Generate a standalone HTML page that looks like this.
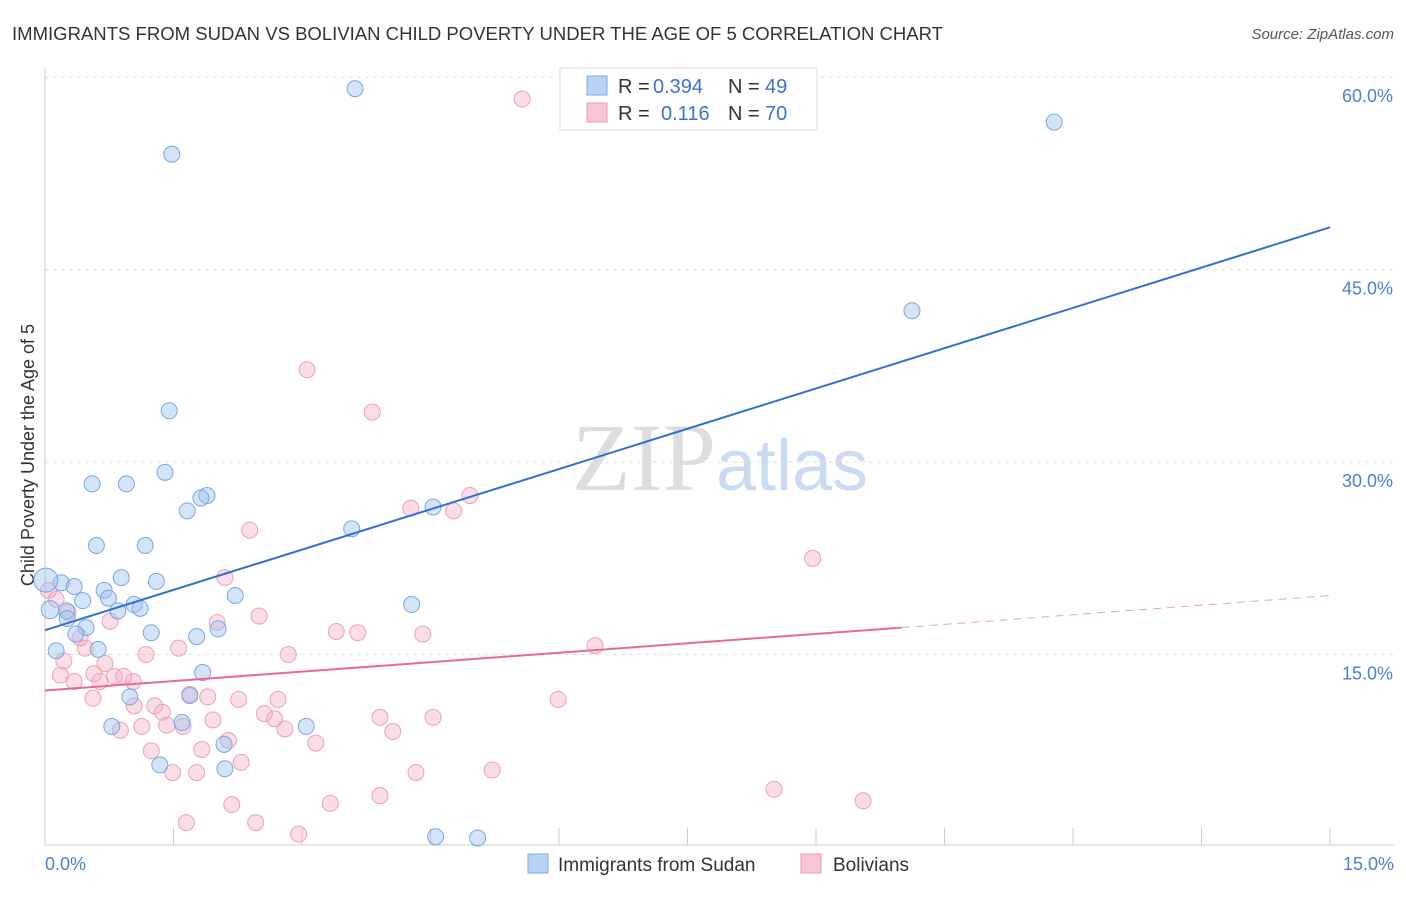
<!DOCTYPE html>
<html><head><meta charset="utf-8"><style>
body{margin:0;background:#fff;font-family:"Liberation Sans",sans-serif;}
svg text{font-family:"Liberation Sans",sans-serif;}
</style></head><body>
<svg id="chart" width="1406" height="892" xmlns="http://www.w3.org/2000/svg">
<text x="12" y="40" font-size="18" fill="#333" textLength="931" lengthAdjust="spacingAndGlyphs">IMMIGRANTS FROM SUDAN VS BOLIVIAN CHILD POVERTY UNDER THE AGE OF 5 CORRELATION CHART</text>
<text x="1394" y="39" font-size="15" fill="#555" font-style="italic" text-anchor="end">Source: ZipAtlas.com</text>
<text x="720" y="490" font-size="96" text-anchor="middle"><tspan fill="#ddd" font-family="Liberation Serif">ZIP</tspan><tspan fill="#c9daf2" font-size="72">atlas</tspan></text>
<text transform="translate(34,455) rotate(-90)" font-size="18" fill="#333" text-anchor="middle">Child Poverty Under the Age of 5</text>
<g id="grid"></g><g id="axes"></g><g id="pts"></g><g id="lines"></g>
<g>
<rect x="560" y="68" width="257" height="62" fill="#fff" stroke="#ddd"/>
<rect x="587" y="76" width="20" height="19" fill="#b8d3f5" stroke="#7ea9e4"/>
<rect x="587" y="103" width="20" height="19" fill="#f9c6d4" stroke="#ee9ab2"/>
<text x="618" y="93" font-size="20" fill="#333">R =</text>
<text x="653" y="93" font-size="20" fill="#3a74d0">0.394</text>
<text x="728" y="93" font-size="20" fill="#333">N =</text>
<text x="765" y="93" font-size="20" fill="#3a74d0">49</text>
<text x="618" y="120" font-size="20" fill="#333">R =</text>
<text x="661" y="120" font-size="20" fill="#3a74d0">0.116</text>
<text x="728" y="120" font-size="20" fill="#333">N =</text>
<text x="765" y="120" font-size="20" fill="#3a74d0">70</text>
</g>
<g>
<rect x="528" y="854" width="20" height="19" fill="#b8d3f5" stroke="#7ea9e4"/>
<text x="558" y="871" font-size="19" fill="#333">Immigrants from Sudan</text>
<rect x="801" y="854" width="20" height="19" fill="#f9c6d4" stroke="#ee9ab2"/>
<text x="833" y="871" font-size="19" fill="#333">Bolivians</text>
</g>
</svg>
<script>
const yTicks=[15,30,45,60];
const yTickLabels=["15.0%","30.0%","45.0%","60.0%"];
const xTickLabels=["0.0%","15.0%"];
const sudanX=[3.62,1.48,11.78,10.12,1.45,0.55,0.95,1.40,1.89,1.82,1.66,3.58,4.53,0.60,1.17,0.89,1.30,0.19,0.34,0.69,0.74,0.44,1.04,1.11,2.22,0.85,0.25,0.26,0.48,1.24,2.02,1.77,0.36,0.62,0.13,4.28,1.84,0.99,1.69,1.60,0.78,3.05,2.09,1.34,2.10,4.56,5.05,0.01,0.06];
const sudanY=[59.1,54.0,56.5,41.8,34.0,28.3,28.3,29.2,27.4,27.2,26.2,24.8,26.5,23.5,23.5,21.0,20.7,20.6,20.3,20.0,19.4,19.2,18.9,18.6,19.6,18.4,18.4,17.8,17.1,16.7,17.0,16.4,16.6,15.4,15.3,18.9,13.6,11.7,11.8,9.7,9.4,9.4,8.0,6.4,6.1,0.8,0.7,20.8,18.5];
const bolX=[5.57,3.06,3.82,4.27,4.96,4.77,2.39,8.96,2.10,0.04,0.13,0.27,0.76,2.50,2.01,3.40,3.65,4.41,6.42,0.41,0.47,1.56,1.18,2.84,0.22,0.70,0.57,0.81,0.92,1.03,0.18,0.34,0.64,0.56,1.69,1.90,2.26,2.72,5.99,1.04,1.28,1.37,2.56,1.96,2.68,3.91,4.53,1.42,1.13,1.61,2.80,0.88,4.06,2.14,3.16,1.24,1.83,2.29,1.49,1.77,4.33,5.22,8.51,3.91,9.55,2.18,3.33,2.46,1.65,2.96];
const bolY=[58.3,37.2,33.9,26.4,27.4,26.2,24.7,22.5,21.0,20.0,19.3,18.3,17.6,18.0,17.5,16.8,16.7,16.6,15.7,16.3,15.5,15.5,15.0,15.0,14.5,14.3,13.5,13.3,13.3,12.9,13.4,12.9,12.9,11.6,11.9,11.7,11.5,11.5,11.5,11.0,11.0,10.5,10.4,9.9,10.0,10.1,10.1,9.5,9.4,9.4,9.2,9.1,9.0,8.3,8.1,7.5,7.6,6.6,5.8,5.8,5.8,6.0,4.5,4.0,3.6,3.3,3.4,1.9,1.9,1.0];
const sudanTrend=[16.9,48.3];
const bolTrend=[12.2,17.1,19.6];
const bolSolidEnd=10.0;
const NS="http://www.w3.org/2000/svg";
const X=v=>45+v/15*1285, Y=v=>847-v*12.83;
function mk(t,a,p){const e=document.createElementNS(NS,t);for(const k in a)e.setAttribute(k,a[k]);document.getElementById(p).appendChild(e);return e;}
yTicks.forEach((t,i)=>{
 const g=mk('line',{x1:45,x2:1394,y1:Y(t),y2:Y(t),stroke:'#ddd','stroke-dasharray':'4,4'},'grid');
 
 
 const l=mk('text',{x:1393,y:Y(t)+25,'font-size':18,fill:'#4a7fd4','text-anchor':'end'},'axes');
 l.textContent=yTickLabels[i];
 
 
});
const ax=mk('line',{x1:45,x2:1394,y1:845,y2:845,stroke:'#ccc'},'axes');


const ay=mk('line',{x1:45,x2:45,y1:68,y2:845,stroke:'#ccc'},'axes');


for(let i=0;i<=10;i++){const t=mk('line',{x1:X(i*1.5),x2:X(i*1.5),y1:828,y2:845,stroke:'#ccc'},'axes');
 
 }
[[0,'start',45],[1,'end',1394]].forEach(([i,a,x])=>{const l=mk('text',{x:x,y:870,'font-size':18,fill:'#4a7fd4','text-anchor':a},'axes');l.textContent=xTickLabels[i];
 
 });
bolX.forEach((x,i)=>{const c=mk('circle',{cx:X(x),cy:Y(bolY[i]),r:8,fill:'rgba(246,170,195,0.4)',stroke:'#eea0b8','stroke-width':1},'pts');
 
 });
sudanX.forEach((x,i)=>{const c=mk('circle',{cx:X(x),cy:Y(sudanY[i]),r:i>=47?(i==47?12:9):8,fill:'rgba(160,196,240,0.45)',stroke:'#7aa6e2','stroke-width':1},'pts');
 
 });
const b=mk('line',{x1:X(0),y1:Y(sudanTrend[0]),x2:X(15),y2:Y(sudanTrend[1]),stroke:'#2f6fd6','stroke-width':2},'lines');


const p=mk('line',{x1:X(0),y1:Y(bolTrend[0]),x2:X(bolSolidEnd),y2:Y(bolTrend[1]),stroke:'#e8699a','stroke-width':2},'lines');


const pd=mk('line',{x1:X(bolSolidEnd),y1:Y(bolTrend[1]),x2:X(15),y2:Y(bolTrend[2]),stroke:'#e8a0b8','stroke-width':1,'stroke-dasharray':'8,6'},'lines');


</script>
</body></html>
